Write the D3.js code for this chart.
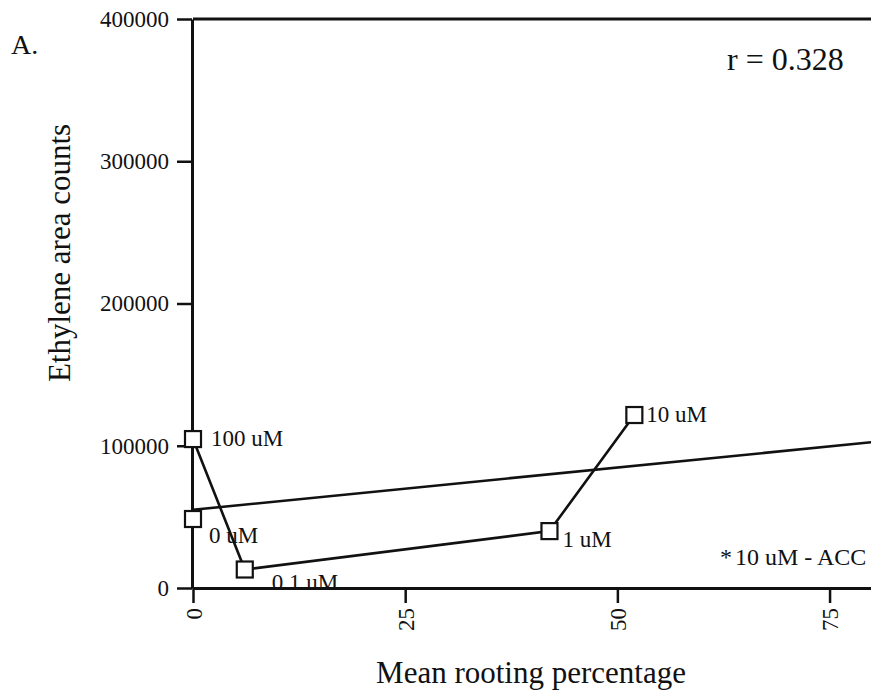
<!DOCTYPE html>
<html>
<head>
<meta charset="utf-8">
<script src="https://cdn.jsdelivr.net/npm/d3@7/dist/d3.min.js"></script>
<style>
  html, body { margin: 0; padding: 0; background: #fff; }
  svg { display: block; }
  text { font-family: "Liberation Serif", "Times New Roman", serif; fill: #111; }
</style>
</head>
<body>
<svg id="chart" width="871" height="696"></svg>
<script>
// ---- data ----
const treatments = ["100 uM", "0 uM", "0.1 uM", "1 uM", "10 uM"];
const rootingPct = [0, 0, 6.1, 42.0, 52.0];
const ethyleneCounts = [104700, 48500, 13000, 40000, 121600];
// connected sequence (treatments joined by the line)
const connectedOrder = ["100 uM", "0.1 uM", "1 uM", "10 uM"];
// regression line end points
const regressionX = [0, 80];
const regressionY = [55000, 102500];
const xTickValues = [0, 25, 50, 75];
const yTickValues = [0, 100000, 200000, 300000, 400000];
const xTitle = "Mean rooting percentage";
const yTitle = "Ethylene area counts";
const panelLabel = "A.";
const corrText = "r = 0.328";
const noteText = "10 uM - ACC";

(function () {
// ---- layout ----
const svg = d3.select("#chart");
const mLeft = 193, mRight = 872, mTop = 19, mBottom = 588;
const x = d3.scaleLinear().domain([0, 80]).range([mLeft, mRight]);
const y = d3.scaleLinear().domain([0, 400000]).range([mBottom, mTop]);

const ink = "#111";
const fs = 23;

// label offsets (screen px) relative to each point
const labelOffset = {
  "100 uM": [18, 7],
  "0 uM": [16, 24],
  "0.1 uM": [27, 20],
  "1 uM": [13, 16],
  "10 uM": [12, 7]
};

// y axis
const yAxis = svg.append("g")
  .attr("transform", `translate(${mLeft - 1},0)`)
  .call(d3.axisLeft(y).tickValues(yTickValues).tickSize(15).tickSizeOuter(0).tickPadding(8)
    .tickFormat(d3.format("d")));
yAxis.select(".domain").attr("stroke", ink).attr("stroke-width", 3);
yAxis.selectAll(".tick line").attr("stroke", ink).attr("stroke-width", 2.5);
yAxis.selectAll(".tick text").attr("font-size", fs).attr("fill", ink)
  .attr("font-family", "Liberation Serif, serif");

// x axis
const xAxis = svg.append("g")
  .attr("transform", `translate(0,${mBottom})`)
  .call(d3.axisBottom(x).tickValues(xTickValues).tickSize(15).tickSizeOuter(0)
    .tickFormat(d3.format("d")));
xAxis.select(".domain").attr("stroke", ink).attr("stroke-width", 3);
xAxis.selectAll(".tick line").attr("stroke", ink).attr("stroke-width", 2.5);
xAxis.selectAll(".tick text")
  .attr("font-size", fs).attr("fill", ink).attr("font-family", "Liberation Serif, serif")
  .attr("transform", "rotate(-90)")
  .attr("text-anchor", "end")
  .attr("x", -20).attr("y", 0).attr("dy", "0.35em");

// top frame line
svg.append("line")
  .attr("x1", x(0)).attr("x2", x(80))
  .attr("y1", y(400000)).attr("y2", y(400000))
  .attr("stroke", ink).attr("stroke-width", 3);

// regression line
svg.append("path")
  .datum(regressionX.map((d, i) => [d, regressionY[i]]))
  .attr("fill", "none").attr("stroke", ink).attr("stroke-width", 2.6)
  .attr("d", d3.line().x(d => x(d[0])).y(d => y(d[1])));

// connected line
const pts = treatments.map((t, i) => ({ name: t, x: rootingPct[i], y: ethyleneCounts[i] }));
const byName = Object.fromEntries(pts.map(p => [p.name, p]));
svg.append("path")
  .datum(connectedOrder.map(n => byName[n]))
  .attr("fill", "none").attr("stroke", ink).attr("stroke-width", 2.6)
  .attr("d", d3.line().x(d => x(d.x)).y(d => y(d.y)));

// square markers
const sq = 16;
svg.append("g").selectAll("rect").data(pts).join("rect")
  .attr("x", d => x(d.x) - sq / 2).attr("y", d => y(d.y) - sq / 2)
  .attr("width", sq).attr("height", sq)
  .attr("fill", "#fff").attr("stroke", ink).attr("stroke-width", 2.2);

// point labels
svg.append("g").selectAll("text").data(pts).join("text")
  .attr("x", d => x(d.x) + labelOffset[d.name][0])
  .attr("y", d => y(d.y) + labelOffset[d.name][1])
  .attr("font-size", fs)
  .text(d => d.name);

// axis titles
svg.append("text")
  .attr("transform", `translate(70,253) rotate(-90)`)
  .attr("text-anchor", "middle").attr("font-size", 31)
  .text(yTitle);
svg.append("text")
  .attr("x", 531).attr("y", 683)
  .attr("text-anchor", "middle").attr("font-size", 31)
  .text(xTitle);

// panel label
svg.append("text").attr("x", 11).attr("y", 54).attr("font-size", 28).text(panelLabel);

// correlation
svg.append("text").attr("x", 727).attr("y", 70).attr("font-size", 32).text(corrText);

// note
const note = svg.append("text").attr("x", 720).attr("y", 565).attr("font-size", 24);
note.append("tspan").text("*");
note.append("tspan").attr("dx", 3).text(noteText);
})();
</script>
</body>
</html>
